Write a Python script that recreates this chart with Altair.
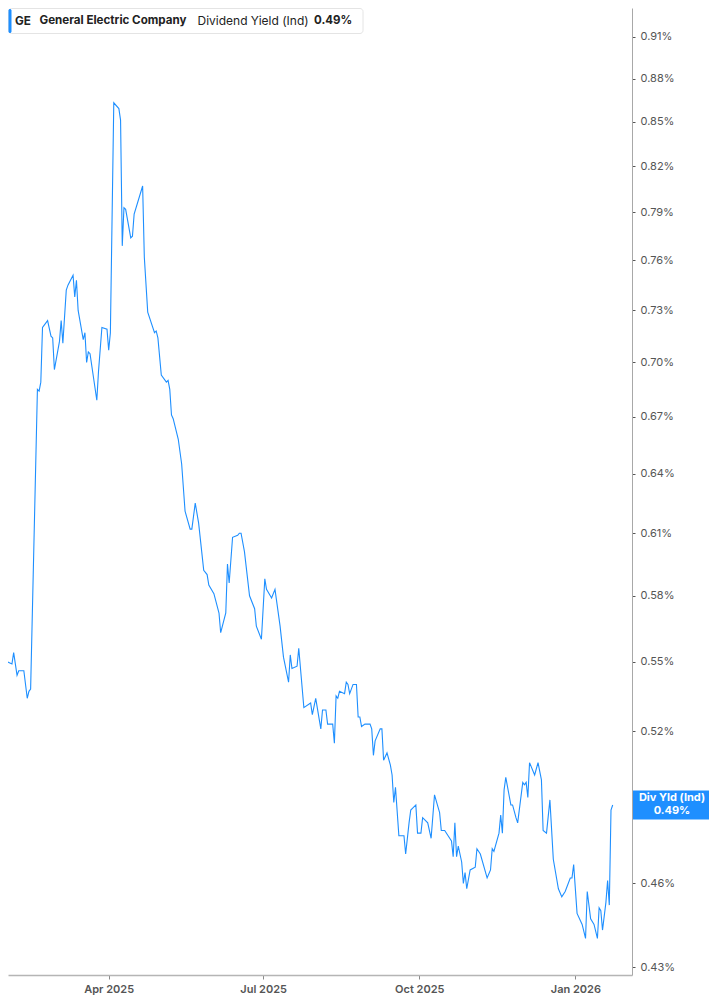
import altair as alt
import pandas as pd

# ---------------- data ----------------
dates = [
    "2025-01-27", "2025-01-28", "2025-01-30", "2025-01-31",
    "2025-02-03", "2025-02-04", "2025-02-06", "2025-02-07", "2025-02-10", "2025-02-12", "2025-02-13", "2025-02-14",
    "2025-02-18", "2025-02-19", "2025-02-20", "2025-02-21", "2025-02-24", "2025-02-26", "2025-02-27", "2025-02-28",
    "2025-03-03", "2025-03-04", "2025-03-05", "2025-03-07", "2025-03-08", "2025-03-11", "2025-03-12", "2025-03-13",
    "2025-03-14", "2025-03-17", "2025-03-18", "2025-03-19", "2025-03-20", "2025-03-21", "2025-03-25", "2025-03-26",
    "2025-03-28", "2025-03-31",
    "2025-04-01", "2025-04-02", "2025-04-04", "2025-04-07", "2025-04-08", "2025-04-09", "2025-04-10", "2025-04-11",
    "2025-04-14", "2025-04-15", "2025-04-16", "2025-04-21", "2025-04-22", "2025-04-24", "2025-04-28", "2025-04-29",
    "2025-04-30",
    "2025-05-02", "2025-05-05", "2025-05-06", "2025-05-07", "2025-05-08", "2025-05-09", "2025-05-12", "2025-05-14",
    "2025-05-16", "2025-05-19", "2025-05-20", "2025-05-22", "2025-05-24", "2025-05-27", "2025-05-29", "2025-05-30",
    "2025-06-02", "2025-06-05", "2025-06-06", "2025-06-09", "2025-06-10", "2025-06-11", "2025-06-13", "2025-06-16",
    "2025-06-17", "2025-06-18", "2025-06-20", "2025-06-23", "2025-06-26", "2025-06-27", "2025-06-30",
    "2025-07-02", "2025-07-03", "2025-07-06", "2025-07-08", "2025-07-11", "2025-07-13", "2025-07-16", "2025-07-17",
    "2025-07-18", "2025-07-21", "2025-07-22", "2025-07-25", "2025-07-29", "2025-07-30",
    "2025-08-01", "2025-08-04", "2025-08-05", "2025-08-07", "2025-08-08", "2025-08-11", "2025-08-12", "2025-08-13",
    "2025-08-14", "2025-08-15", "2025-08-18", "2025-08-19", "2025-08-20", "2025-08-21", "2025-08-23", "2025-08-25",
    "2025-08-26", "2025-08-27", "2025-08-28", "2025-08-30",
    "2025-09-02", "2025-09-03", "2025-09-04", "2025-09-05", "2025-09-08", "2025-09-09", "2025-09-10", "2025-09-12",
    "2025-09-14", "2025-09-15", "2025-09-16", "2025-09-17", "2025-09-19", "2025-09-22", "2025-09-23", "2025-09-25",
    "2025-09-26", "2025-09-29", "2025-09-30",
    "2025-10-02", "2025-10-03", "2025-10-06", "2025-10-08", "2025-10-10", "2025-10-13", "2025-10-14", "2025-10-16",
    "2025-10-18", "2025-10-20", "2025-10-21", "2025-10-22", "2025-10-23", "2025-10-24", "2025-10-26", "2025-10-27",
    "2025-10-28", "2025-10-29", "2025-10-31",
    "2025-11-03", "2025-11-04", "2025-11-06", "2025-11-10", "2025-11-12", "2025-11-13", "2025-11-14", "2025-11-17",
    "2025-11-18", "2025-11-19", "2025-11-20", "2025-11-21", "2025-11-24", "2025-11-25", "2025-11-27", "2025-11-28",
    "2025-12-01", "2025-12-02", "2025-12-03", "2025-12-04", "2025-12-05", "2025-12-08", "2025-12-10", "2025-12-12",
    "2025-12-13", "2025-12-15", "2025-12-17", "2025-12-19", "2025-12-22", "2025-12-24", "2025-12-26", "2025-12-29",
    "2025-12-30", "2025-12-31",
    "2026-01-02", "2026-01-05", "2026-01-07", "2026-01-08", "2026-01-10", "2026-01-12", "2026-01-14", "2026-01-15",
    "2026-01-16", "2026-01-17", "2026-01-19", "2026-01-20", "2026-01-21", "2026-01-22", "2026-01-23",
]

yield_pct = [
    0.576, 0.576, 0.545, 0.550,
    0.549, 0.554, 0.544, 0.546, 0.546, 0.534, 0.537, 0.538,
    0.685, 0.684, 0.689, 0.720, 0.724, 0.715, 0.714, 0.696,
    0.712, 0.724, 0.711, 0.742, 0.745, 0.751, 0.738, 0.748,
    0.730, 0.713, 0.717, 0.700, 0.706, 0.705, 0.679, 0.695,
    0.720, 0.719,
    0.707, 0.717, 0.863, 0.859, 0.851, 0.769, 0.793, 0.792,
    0.774, 0.775, 0.789, 0.807, 0.762, 0.729, 0.717, 0.718,
    0.714,
    0.693, 0.689, 0.690, 0.685, 0.671, 0.669, 0.658, 0.645,
    0.621, 0.612, 0.612, 0.625, 0.615, 0.592, 0.590, 0.585,
    0.581, 0.572, 0.563, 0.572, 0.595, 0.586, 0.608, 0.609,
    0.610, 0.610, 0.601, 0.580, 0.574, 0.566, 0.560,
    0.588, 0.583, 0.579, 0.583, 0.566, 0.552, 0.541, 0.553,
    0.547, 0.548, 0.556, 0.530, 0.532, 0.527,
    0.534, 0.521, 0.529, 0.529, 0.523, 0.523, 0.515, 0.535,
    0.534, 0.537, 0.536, 0.541, 0.540, 0.536, 0.540, 0.540,
    0.526, 0.526, 0.522, 0.523,
    0.523, 0.521, 0.510, 0.516, 0.521, 0.521, 0.508, 0.511,
    0.506, 0.502, 0.491, 0.497, 0.478, 0.478, 0.471, 0.483,
    0.488, 0.490, 0.479,
    0.479, 0.485, 0.483, 0.477, 0.494, 0.487, 0.480, 0.480,
    0.478, 0.476, 0.470, 0.483, 0.470, 0.474, 0.468, 0.460,
    0.464, 0.458, 0.465,
    0.466, 0.473, 0.471, 0.462, 0.465, 0.473, 0.472, 0.479,
    0.486, 0.479, 0.496, 0.501, 0.490, 0.490, 0.485, 0.483,
    0.499, 0.498, 0.499, 0.493, 0.507, 0.502, 0.507, 0.500,
    0.480, 0.479, 0.492, 0.469, 0.458, 0.455, 0.457, 0.462,
    0.462, 0.467,
    0.449, 0.445, 0.440, 0.457, 0.447, 0.445, 0.440, 0.451,
    0.450, 0.443, 0.453, 0.461, 0.452, 0.488, 0.490,
]

y_ticks = [0.43, 0.46, 0.49, 0.52, 0.55, 0.58, 0.61, 0.64, 0.67, 0.70,
           0.73, 0.76, 0.79, 0.82, 0.85, 0.88, 0.91]
x_tick_dates = [(2025, 4, 1), (2025, 7, 1), (2025, 10, 1), (2026, 1, 1)]

ticker = "GE"
company = "General Electric Company"
metric = "Dividend Yield (Ind)"
tag_title = "Div Yld (Ind)"

last_val = yield_pct[-1]
last_label = f"{last_val:.2f}%"

df = pd.DataFrame({"date": dates, "value": yield_pct})
one = pd.DataFrame({"k": [0]})

BLUE = "#1e8fff"
FONT = "Inter"

x_scale = alt.Scale(
    type="utc",
    domain=[alt.DateTime(year=2025, month=1, date=31, hours=16, utc=True),
            alt.DateTime(year=2026, month=2, date=3, hours=9, utc=True)],
)
y_scale = alt.Scale(type="log", domain=[0.42724, 0.93152], nice=False, zero=False)

x_axis = alt.Axis(
    title=None,
    values=[alt.DateTime(year=y, month=m, date=d, utc=True) for (y, m, d) in x_tick_dates],
    labelExpr="utcFormat(datum.value, '%b %Y')",
    grid=False,
    domainColor="#b5b5b5", domainWidth=1.6,
    tickColor="#8a8a8a", tickSize=4, tickWidth=1,
    labelColor="#555555", labelFont=FONT, labelFontSize=11, labelFontWeight=600,
    labelPadding=4,
)
y_axis = alt.Axis(
    title=None, orient="right",
    values=y_ticks,
    labelExpr="format(datum.value, '.2f') + '%'",
    grid=False,
    domainColor="#a8a8a8", domainWidth=1,
    tickColor="#555555", tickSize=3, tickWidth=1,
    labelColor="#555555", labelFont=FONT, labelFontSize=11,
    labelPadding=5,
)

line = alt.Chart(df).mark_line(color=BLUE, strokeWidth=1.1, clip=True).encode(
    x=alt.X("date:T", scale=x_scale, axis=x_axis),
    y=alt.Y("value:Q", scale=y_scale, axis=y_axis),
)

# ---- header box (top-left) ----
box = alt.Chart(one).mark_rect(fill="white", stroke="#e4e4e4", strokeWidth=1, cornerRadius=3).encode(
    x=alt.value(0.5), x2=alt.value(355), y=alt.value(0.5), y2=alt.value(25.5)
)
bar = alt.Chart(one).mark_rect(fill=BLUE, cornerRadius=1.5).encode(
    x=alt.value(0.5), x2=alt.value(3.5), y=alt.value(1), y2=alt.value(25)
)


def header_text(txt, xpos, weight, size):
    return alt.Chart(one).mark_text(
        align="left", baseline="middle", font=FONT, fontSize=size,
        fontWeight=weight, color="#222222"
    ).encode(x=alt.value(xpos), y=alt.value(13), text=alt.value(txt))


t1 = header_text(ticker, 7, "bold", 11.7)
t2 = header_text(company, 31.5, "bold", 11.6)
t3 = header_text(metric, 189.5, "normal", 12)
t4 = header_text(last_label, 306, "bold", 11.5)

# ---- last value tag on the right axis ----
tag = alt.Chart(one).mark_rect(fill=BLUE, yOffset=-14.5, y2Offset=14.5).encode(
    x=alt.value(625), x2=alt.value(701), y=alt.datum(last_val), y2=alt.datum(last_val)
)
tag_t1 = alt.Chart(one).mark_text(
    align="center", baseline="middle", font=FONT, fontSize=11, fontWeight="bold",
    color="white", dy=-6.5
).encode(x=alt.value(664), y=alt.datum(last_val), text=alt.value(tag_title))
tag_t2 = alt.Chart(one).mark_text(
    align="center", baseline="middle", font=FONT, fontSize=11, fontWeight="bold",
    color="white", dy=6
).encode(x=alt.value(664), y=alt.datum(last_val), text=alt.value(last_label))

chart = alt.layer(line, box, bar, t1, t2, t3, t4, tag, tag_t1, tag_t2).properties(
    width=624,
    height=967,
    autosize=alt.AutoSizeParams(type="none"),
    padding={"left": 0, "top": 0, "right": 77, "bottom": 20},
    background="white",
).configure_view(strokeWidth=0)

chart.save("out.html", embed_options={"renderer": "svg", "actions": False})
